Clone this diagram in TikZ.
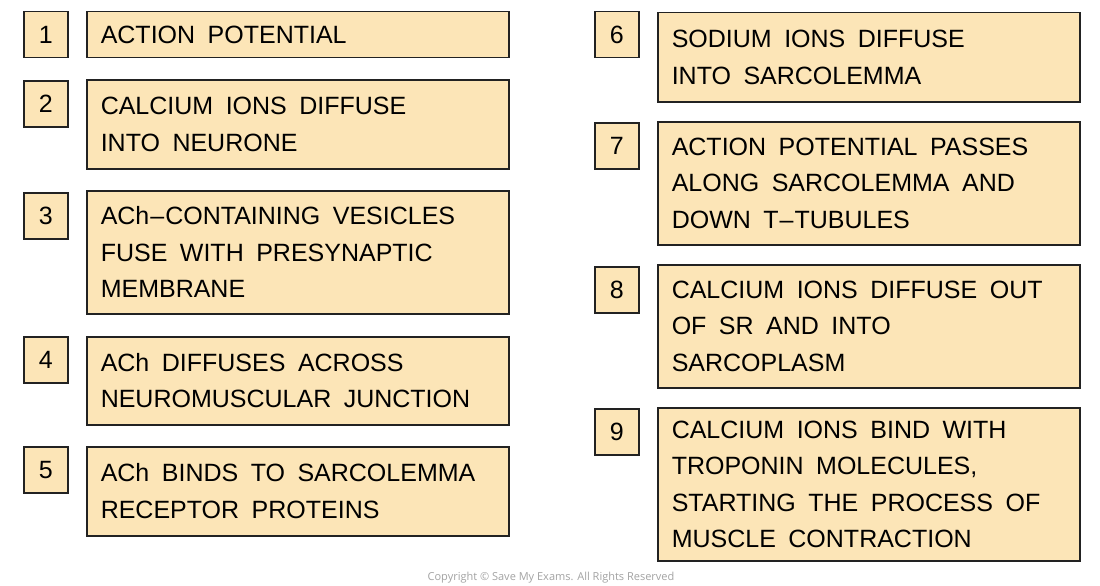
\documentclass[tikz,border=0pt]{standalone}
\usepackage{fontspec}
\setmainfont{Liberation Sans}
\newfontfamily\copyfont{Open Sans}
\definecolor{boxfill}{HTML}{FCE5B7}
\definecolor{boxline}{HTML}{222222}
\definecolor{copygray}{HTML}{A3A3A3}
\newcommand{\boxfont}{\fontsize{25}{36.5}\selectfont}
\begin{document}
\begin{tikzpicture}[x=1pt,y=-1pt,
  numbox/.style={draw=boxline,fill=boxfill,line width=1.5pt,rectangle,
    minimum width=44pt,minimum height=46pt,inner sep=0pt,anchor=north west,
    font=\boxfont},
  stepbox/.style={draw=boxline,fill=boxfill,line width=1.5pt,rectangle,
    text width=394pt,inner xsep=14pt,inner ysep=0pt,align=left,anchor=north west,
    font=\boxfont,
    execute at begin node={\spaceskip=12.5pt plus 2pt minus 1pt\xspaceskip=12.5pt\relax}}]
\useasboundingbox (0,0) rectangle (1100,586);
\fill[white] (0,0) rectangle (1100,586);
% left column
\node[numbox] (n1) at (23,11) {1};
\node[stepbox,minimum height=46pt] (s1) at (86,11) {ACTION POTENTIAL};
\node[numbox] (n2) at (23,80) {2};
\node[stepbox,minimum height=89pt] (s2) at (86,79) {CALCIUM IONS DIFFUSE\\INTO NEURONE};
\node[numbox] (n3) at (23,192) {3};
\node[stepbox,minimum height=123pt] (s3) at (86,190) {ACh\kern1pt--\kern1pt CONTAINING VESICLES\\FUSE WITH PRESYNAPTIC\\MEMBRANE};
\node[numbox] (n4) at (23,336) {4};
\node[stepbox,minimum height=88pt] (s4) at (86,336) {ACh DIFFUSES ACROSS\\NEUROMUSCULAR JUNCTION};
\node[numbox] (n5) at (23,446) {5};
\node[stepbox,minimum height=89pt] (s5) at (86,446) {ACh BINDS TO SARCOLEMMA\\RECEPTOR PROTEINS};
% right column
\node[numbox] (n6) at (594,11) {6};
\node[stepbox,minimum height=89pt] (s6) at (657,12) {SODIUM IONS DIFFUSE\\INTO SARCOLEMMA};
\node[numbox] (n7) at (594,122) {7};
\node[stepbox,minimum height=123pt] (s7) at (657,121) {ACTION POTENTIAL PASSES\\ALONG SARCOLEMMA AND\\DOWN T\kern1pt--\kern1pt TUBULES};
\node[numbox] (n8) at (594,266) {8};
\node[stepbox,minimum height=123pt] (s8) at (657,264) {CALCIUM IONS DIFFUSE OUT\\OF SR AND INTO\\SARCOPLASM};
\node[numbox] (n9) at (594,408) {9};
\node[stepbox,minimum height=153pt] (s9) at (657,407) {CALCIUM IONS BIND WITH\\TROPONIN MOLECULES,\\STARTING THE PROCESS OF\\MUSCLE CONTRACTION};
% copyright
\node[font=\copyfont\fontsize{11}{13}\selectfont,text=copygray,inner sep=0pt,anchor=base] (copy) at (551,580) {Copyright © Save My Exams. All Rights Reserved};
\end{tikzpicture}
\end{document}
